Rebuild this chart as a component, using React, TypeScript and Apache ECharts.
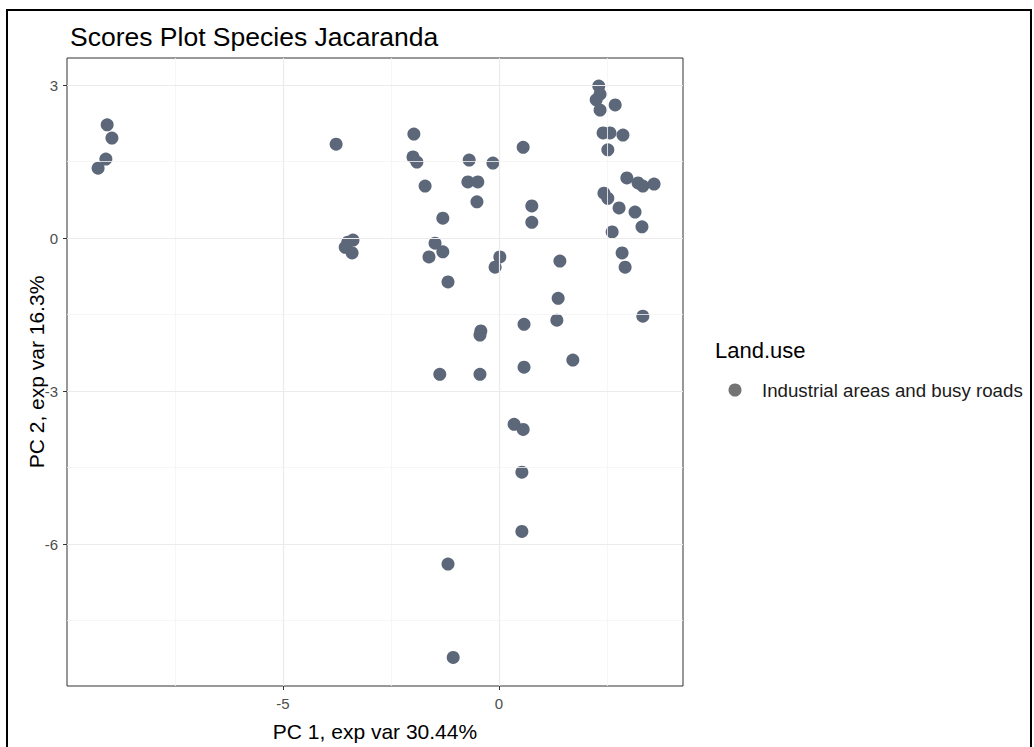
import React, { useEffect, useRef } from "react";
import * as echarts from "echarts";

const seriesName = "Industrial areas and busy roads";
const legendTitle = "Land.use";
const chartTitle = "Scores Plot Species Jacaranda";
const xTitle = "PC 1, exp var 30.44%";
const yTitle = "PC 2, exp var 16.3%";

const pc1 = [
  -9.07, -8.96, -9.1, -9.28,
  -3.77, -1.97, -1.99, -1.9, -1.71, -1.3, -3.5, -3.38, -3.56, -3.4, -1.48, -1.3, -1.62, -1.18,
  -0.69, -0.14, -0.72, -0.49, -0.51, 0.56, 0.76, 0.76, 0.02, -0.09, 1.41, 1.37, 1.34, -0.42, -0.44,
  0.58, 1.71, 0.58, -1.37, -0.44, 0.35, 0.56, 0.53, 0.53, -1.18, -1.06,
  2.31, 2.34, 2.25, 2.34, 2.69, 2.41, 2.57, 2.87, 2.52, 2.96, 3.22, 3.33, 3.59, 2.43, 2.52, 2.78,
  3.15, 3.31, 2.62, 2.85, 2.92, 3.33,
];
const pc2 = [
  2.22, 1.96, 1.55, 1.37,
  1.84, 2.04, 1.59, 1.49, 1.02, 0.39, -0.08, -0.04, -0.18, -0.29, -0.1, -0.27, -0.37, -0.86,
  1.53, 1.47, 1.1, 1.1, 0.71, 1.78, 0.63, 0.31, -0.37, -0.57, -0.45, -1.18, -1.61, -1.82, -1.9,
  -1.69, -2.39, -2.53, -2.67, -2.67, -3.65, -3.75, -4.59, -5.75, -6.39, -8.22,
  2.98, 2.82, 2.71, 2.51, 2.61, 2.06, 2.06, 2.02, 1.73, 1.18, 1.08, 1.02, 1.06, 0.88, 0.78, 0.59,
  0.51, 0.22, 0.12, -0.29, -0.57, -1.53,
];

const xTicks = [-5, 0];
const yTicks = [-6, -3, 0, 3];
const xMinor = [-7.5, -2.5, 2.5];
const yMinor = [-7.5, -4.5, -1.5, 1.5];
const xRange = [-10, 4.26];
const yRange = [-8.78, 3.53];

export default function App() {
  const ref = useRef<HTMLDivElement>(null);
  useEffect(() => {
    if (!ref.current) return;
    const chart = echarts.init(ref.current, null, { renderer: "svg" });
    const font = "'Liberation Sans', Arial, sans-serif";
    const points = pc1.map((x, i) => [x, pc2[i]]);
    const major = { color: "#ebebeb", width: 1.2, type: "solid" };
    const minor = { color: "#f4f4f4", width: 0.8, type: "solid" };
    const gridLines = [
      ...xMinor.map((v) => ({ xAxis: v, lineStyle: minor })),
      ...yMinor.map((v) => ({ yAxis: v, lineStyle: minor })),
      ...xTicks.map((v) => ({ xAxis: v, lineStyle: major })),
      ...yTicks.map((v) => ({ yAxis: v, lineStyle: major })),
    ];
    chart.setOption({
      animation: false,
      backgroundColor: "#ffffff",
      textStyle: { fontFamily: font },
      grid: {
        left: 67,
        top: 58,
        width: 616,
        height: 628,
        show: true,
        borderColor: "#333333",
        borderWidth: 1,
        backgroundColor: "#ffffff",
        z: 0,
      },
      xAxis: {
        type: "value",
        min: xRange[0],
        max: xRange[1],
        splitLine: { show: false },
        axisLine: { show: false, onZero: false },
        axisTick: { show: true, customValues: xTicks, length: 4, lineStyle: { color: "#333333" } },
        axisLabel: { customValues: xTicks, color: "#4d4d4d", fontSize: 15, margin: 10, fontFamily: font },
      },
      yAxis: {
        type: "value",
        min: yRange[0],
        max: yRange[1],
        splitLine: { show: false },
        axisLine: { show: false, onZero: false },
        axisTick: { show: true, customValues: yTicks, length: 4, lineStyle: { color: "#333333" } },
        axisLabel: { customValues: yTicks, color: "#4d4d4d", fontSize: 15, margin: 9, fontFamily: font },
      },
      legend: { show: false },
      graphic: [
        {
          type: "rect",
          shape: { x: 7, y: 10, width: 1024, height: 760 },
          style: { fill: "none", stroke: "#000000", lineWidth: 2 },
          silent: true,
        },
        {
          type: "text",
          x: 70,
          y: 37,
          style: { text: chartTitle, fill: "#000000", fontSize: 26.5, fontFamily: font, textVerticalAlign: "middle" },
        },
        {
          type: "text",
          x: 375,
          y: 731,
          style: { text: xTitle, fill: "#000000", fontSize: 21, fontFamily: font, textAlign: "center", textVerticalAlign: "middle" },
        },
        {
          type: "text",
          x: 36,
          y: 372,
          rotation: Math.PI / 2,
          style: { text: yTitle, fill: "#000000", fontSize: 21, fontFamily: font, textAlign: "center", textVerticalAlign: "middle" },
        },
        {
          type: "text",
          x: 715,
          y: 350,
          style: { text: legendTitle, fill: "#000000", fontSize: 22, fontFamily: font, textVerticalAlign: "middle" },
        },
        {
          type: "circle",
          shape: { cx: 735, cy: 390, r: 6.5 },
          style: { fill: "#747474" },
        },
        {
          type: "text",
          x: 762,
          y: 390,
          style: { text: seriesName, fill: "#1a1a1a", fontSize: 18.7, fontFamily: font, textVerticalAlign: "middle" },
        },
      ],
      series: [
        {
          name: "grid",
          type: "scatter",
          data: [],
          z: 1,
          silent: true,
          markLine: {
            silent: true,
            symbol: "none",
            label: { show: false },
            animation: false,
            data: gridLines,
          },
        },
        {
          name: seriesName,
          type: "scatter",
          symbol: "circle",
          symbolSize: 13,
          z: 3,
          itemStyle: { color: "#5c6779", opacity: 1 },
          data: points,
        },
      ],
    });
    return () => chart.dispose();
  }, []);
  return (
    <div
      ref={ref}
      style={{ position: "absolute", left: 0, top: 0, width: 1034, height: 747 }}
    />
  );
}
